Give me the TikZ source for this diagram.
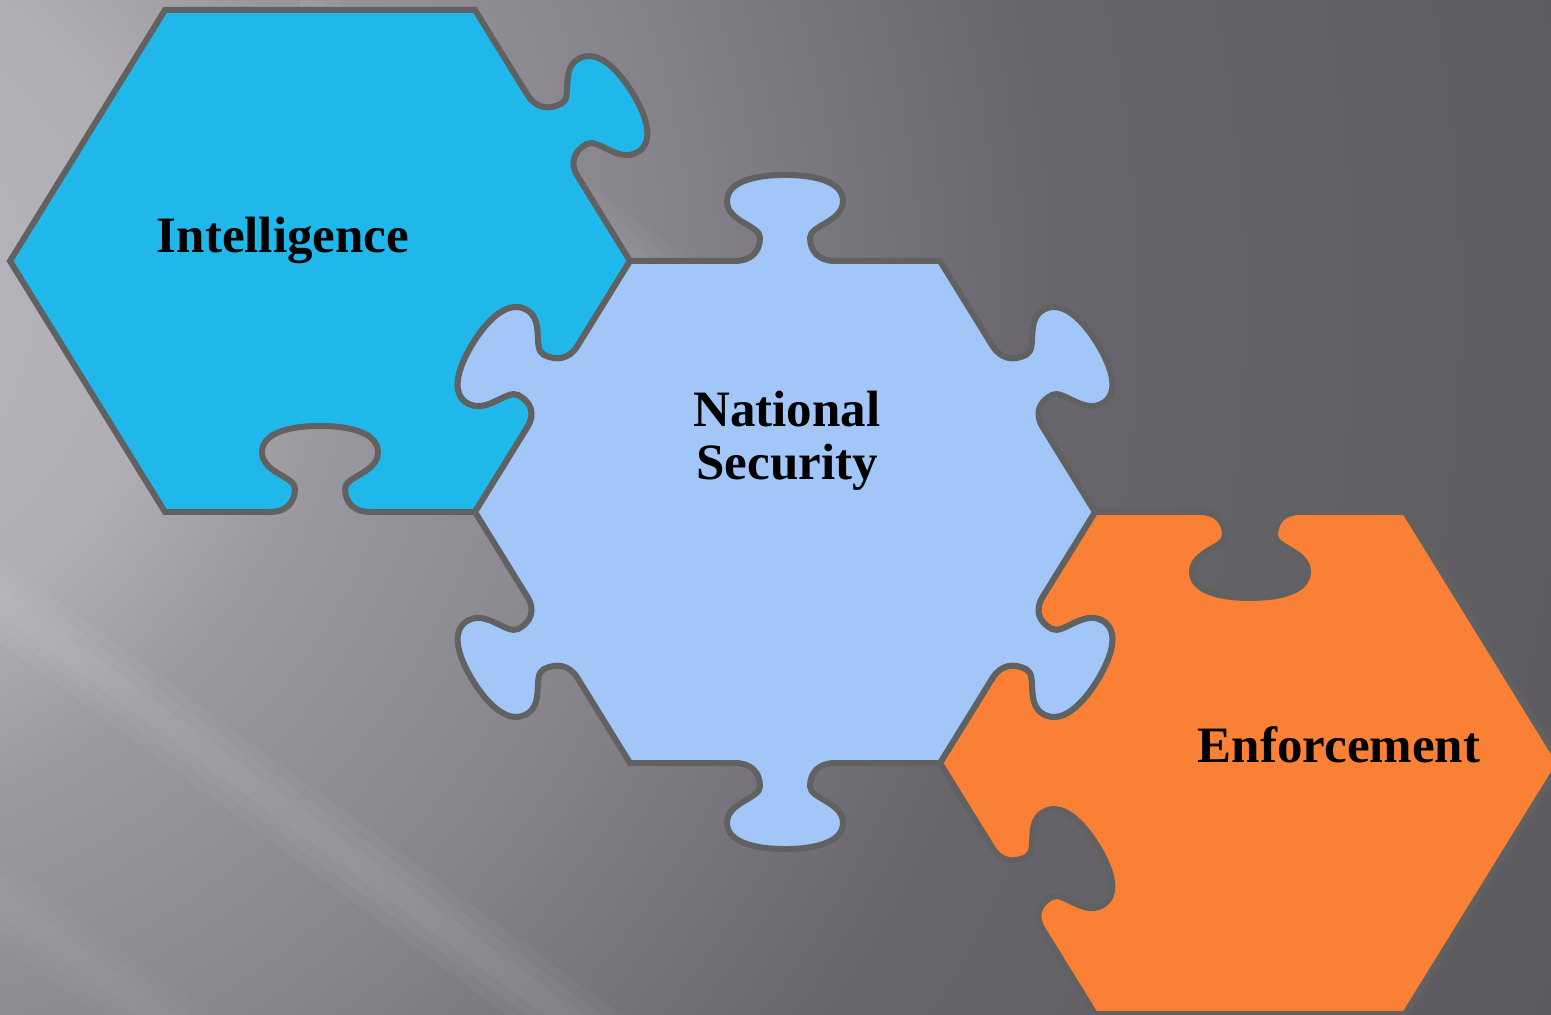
\documentclass[tikz,border=0pt]{standalone}
\usepackage{fontspec}
\setmainfont{Liberation Serif}

\definecolor{pzblue}{RGB}{32,183,235}
\definecolor{pzpale}{RGB}{162,198,247}
\definecolor{pzorange}{RGB}{249,128,53}
\definecolor{pzline}{RGB}{97,97,97}
\definecolor{bgA}{RGB}{186,184,190}
\definecolor{bgB}{RGB}{176,174,180}
\definecolor{bgC}{RGB}{155,153,159}
\definecolor{bgD}{RGB}{136,134,140}
\definecolor{bgE}{RGB}{104,102,108}
\definecolor{bgF}{RGB}{91,90,95}

\pgfdeclareradialshading{bgglow}{\pgfpoint{0bp}{0bp}}{color(0bp)=(bgA); color(4.75bp)=(bgB); color(7bp)=(bgC); color(11bp)=(bgD); color(16.5bp)=(bgE); color(25bp)=(bgF); color(50bp)=(bgF)}

\tikzset{
    piece/.style={draw=pzline, line width=1.7pt},
    pzlabel/.style={font=\fontsize{14.5}{15}\selectfont\bfseries, inner sep=0pt, align=center}
}

% one side of a piece: top side turned by #1, #2 = 1 knob, -1 hole
\newcommand{\pzflat}[1]{-- ([rotate=#1]155,\hh)}
\newcommand{\pzknob}[2]{-- ([rotate=#1]-50,\hh)
    .. controls ([rotate=#1]-34,\hh) and ([rotate=#1]-25,{\hh+(#2)*10}) .. ([rotate=#1]-25,{\hh+(#2)*25})
    .. controls ([rotate=#1]-25,{\hh+(#2)*38}) and ([rotate=#1]-58,{\hh+(#2)*42}) .. ([rotate=#1]-58,{\hh+(#2)*64})
    .. controls ([rotate=#1]-58,{\hh+(#2)*84}) and ([rotate=#1]-32,{\hh+(#2)*92}) .. ([rotate=#1]0,{\hh+(#2)*92})
    .. controls ([rotate=#1]32,{\hh+(#2)*92}) and ([rotate=#1]58,{\hh+(#2)*84}) .. ([rotate=#1]58,{\hh+(#2)*64})
    .. controls ([rotate=#1]58,{\hh+(#2)*42}) and ([rotate=#1]25,{\hh+(#2)*38}) .. ([rotate=#1]25,{\hh+(#2)*25})
    .. controls ([rotate=#1]25,{\hh+(#2)*10}) and ([rotate=#1]34,\hh) .. ([rotate=#1]50,\hh)
    -- ([rotate=#1]155,\hh)}

\begin{document}
\begin{tikzpicture}[x=0.01cm, y=0.01cm]
        \pgfmathsetmacro{\hh}{310*sin(60)}
        \pgfmathsetmacro{\squish}{0.935}

        \useasboundingbox (0,0) rectangle (1551,1015);
        \clip (0,0) rectangle (1551,1015);

        \fill[bgF] (0,0) rectangle (1551,1015);
        \shade[shading=bgglow] (-200,715) circle (1900);
        \foreach \d in {14,28,42} {
            \fill[white, opacity=0.035] (-100,{488-\d}) -- (760,{-144-\d}) -- (760,{-144+\d}) -- (-100,{488+\d}) -- cycle;
            \fill[white, opacity=0.025] (-100,{188-\d}) -- (400,{-179-\d}) -- (400,{-179+\d}) -- (-100,{188+\d}) -- cycle;
            \fill[white, opacity=0.03] (300,{999-\d}) -- (900,{559-\d}) -- (900,{559+\d}) -- (300,{999+\d}) -- cycle;
        }

        \begin{scope}[shift={(320,754)}, yscale=\squish]
            \draw[piece, fill=pzblue] (-155,\hh) \pzflat{0} \pzknob{-60}{1} \pzknob{-120}{-1} \pzknob{-180}{-1} \pzflat{-240} \pzflat{-300} -- cycle;
        \end{scope}
        \begin{scope}[shift={(1250,252)}, yscale=\squish]
            \draw[piece, fill=pzorange] (-155,\hh) \pzknob{0}{-1} \pzflat{-60} \pzflat{-120} \pzflat{-180} \pzknob{-240}{-1} \pzknob{-300}{-1} -- cycle;
        \end{scope}
        \begin{scope}[shift={(785,503)}, yscale=\squish]
            \draw[piece, fill=pzpale] (-155,\hh) \pzknob{0}{1} \pzknob{-60}{1} \pzknob{-120}{1} \pzknob{-180}{1} \pzknob{-240}{1} \pzknob{-300}{1} -- cycle;
        \end{scope}

        \node[pzlabel, anchor=base] (intel) at (283,762) {Intelligence};
        \node[pzlabel] (natsec) at (787,574) {National\\Security};
        \node[pzlabel, anchor=base] (enforce) at (1339,252) {Enforcement};

\end{tikzpicture}
\end{document}
